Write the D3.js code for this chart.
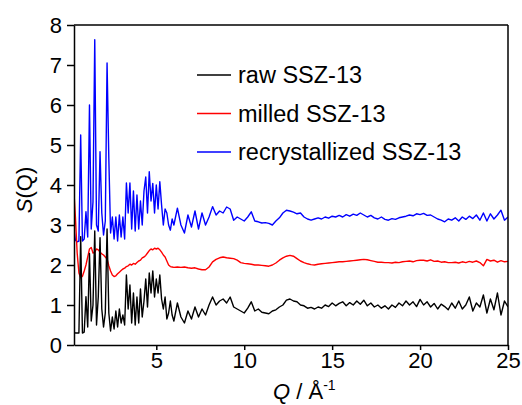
<!DOCTYPE html>
<html>
<meta charset="utf-8">
<head>
	<title>S(Q) SSZ-13</title>
	<style>
	body { margin: 0; background: #fff; }
	.axis text { font: 22px "Liberation Sans", Arial, sans-serif; fill: #000; }
	.axis path, .axis line { fill: none; stroke: #000; stroke-width: 1.5px; }
	.label { font: 22px "Liberation Sans", Arial, sans-serif; fill: #000; }
	.legend text { font: 23.5px "Liberation Sans", Arial, sans-serif; fill: #000; }
	</style>
</head>
<body>
<script src="https://cdnjs.cloudflare.com/ajax/libs/d3/7.8.5/d3.min.js"></script>
<script>

// Q grid (1/Å): fine steps where the Bragg spikes are, coarser after 6
var qLow = [0.3,0.4,0.5,0.6,0.7,0.8,0.9,1.0,1.1,1.2,1.3,1.4,1.5,1.6,1.7,1.8,1.9,2.0,2.1,2.2,
  2.3,2.4,2.5,2.6,2.7,2.8,2.9,3.0,3.1,3.2,3.3,3.4,3.5,3.6,3.7,3.8,3.9,4.0,4.1,4.2,
  4.3,4.4,4.5,4.6,4.7,4.8,4.9,5.0,5.1,5.2,5.3,5.4,5.5,5.6,5.7,5.8,5.9,6.0];
var qHigh = [6.2,6.4,6.6,6.8,7.0,7.2,7.4,7.6,7.8,8.0,8.2,8.4,8.6,8.8,9.0,9.2,9.4,9.6,9.8,10.0,
  10.2,10.4,10.6,10.8,11.0,11.2,11.4,11.6,11.8,12.0,12.2,12.4,12.6,12.8,13.0,13.2,13.4,13.6,13.8,14.0,
  14.2,14.4,14.6,14.8,15.0,15.2,15.4,15.6,15.8,16.0,16.2,16.4,16.6,16.8,17.0,17.2,17.4,17.6,17.8,18.0,
  18.2,18.4,18.6,18.8,19.0,19.2,19.4,19.6,19.8,20.0,20.2,20.4,20.6,20.8,21.0,21.2,21.4,21.6,21.8,22.0,
  22.2,22.4,22.6,22.8,23.0,23.2,23.4,23.6,23.8,24.0,24.2,24.4,24.6,24.8,25.0];

var rawLow = [0.33,0.30,0.30,0.30,2.71,0.30,0.32,1.21,0.45,2.29,0.6,1.0,2.85,0.5,1.2,2.68,0.9,0.45,0.8,2.9,
  0.8,0.35,0.7,0.4,0.85,0.45,0.9,0.55,0.75,0.5,1.75,0.9,1.5,0.55,1.3,0.5,1.2,0.55,1.4,0.7,
  1.1,1.65,0.95,1.8,1.3,1.85,1.2,1.65,1.3,1.75,1.15,0.9,1.2,0.65,0.8,1.1,0.75,0.6];
var rawHigh = [1.05,0.7,0.55,0.85,0.65,0.95,0.7,0.9,0.75,1.0,
  1.2,1.0,1.1,1.15,1.05,1.2,0.95,0.9,0.85,0.8,
  0.92,1.08,0.85,0.9,0.82,0.8,0.78,0.85,0.88,0.95,
  1.0,1.12,1.15,1.1,1.08,1.0,0.98,0.92,0.94,0.9,
  0.95,0.92,1.0,0.96,1.05,0.98,1.04,1.08,0.98,1.06,
  1.0,1.1,1.02,1.12,0.98,1.05,0.95,1.0,0.92,0.98,
  0.9,1.0,0.94,1.05,0.98,1.1,1.0,1.08,0.96,1.14,
  1.0,1.08,0.95,1.04,0.9,1.02,0.96,0.88,1.05,0.92,
  1.1,0.9,1.0,1.2,0.85,1.05,0.95,1.25,0.8,1.15,
  0.88,1.3,0.75,1.1,0.95];

var milledLow = [3.95,3.2,2.3,1.8,1.68,1.72,1.85,2.0,2.2,2.4,2.44,2.3,2.32,2.4,2.38,2.32,2.28,2.25,2.2,2.15,
  1.98,1.85,1.75,1.71,1.73,1.78,1.82,1.86,1.9,1.92,1.96,1.98,2.02,2.0,2.04,2.02,2.06,2.1,2.12,2.18,
  2.2,2.24,2.3,2.36,2.4,2.38,2.42,2.4,2.42,2.38,2.32,2.25,2.2,2.1,2.0,1.96,1.95,1.94];
var milledHigh = [1.95,1.94,1.95,1.93,1.92,1.93,1.9,1.88,1.88,1.95,
  2.08,2.14,2.18,2.2,2.18,2.17,2.16,2.12,2.06,2.04,
  2.03,2.02,2.0,2.0,1.99,1.98,1.97,2.0,2.05,2.12,
  2.18,2.22,2.24,2.22,2.16,2.1,2.06,2.03,2.01,2.0,
  2.02,2.03,2.04,2.05,2.06,2.07,2.08,2.08,2.09,2.1,
  2.11,2.12,2.13,2.14,2.13,2.11,2.09,2.07,2.07,2.06,
  2.06,2.05,2.07,2.06,2.08,2.09,2.1,2.08,2.11,2.12,
  2.12,2.1,2.13,2.09,2.1,2.07,2.08,2.06,2.06,2.07,
  2.05,2.08,2.06,2.09,2.07,2.1,2.06,1.98,2.14,2.1,
  2.12,2.07,2.11,2.08,2.09];

var recrLow = [2.95,2.62,2.58,2.6,5.25,2.6,2.65,3.33,2.7,6.0,2.9,3.58,7.63,3.0,2.85,4.83,3.3,2.75,3.1,7.05,
  4.67,2.8,3.2,2.65,3.2,2.6,3.25,2.7,3.2,2.65,4.05,3.3,4.05,2.9,3.85,2.85,3.75,2.9,3.6,3.0,
  3.85,4.2,3.3,4.33,3.6,4.04,3.3,4.0,3.4,4.08,3.5,3.0,3.4,3.3,3.0,2.87,3.15,3.0];
var recrHigh = [3.42,3.0,2.8,3.25,2.95,3.35,2.9,3.3,3.0,3.2,
  3.46,3.25,3.35,3.3,3.45,3.4,3.12,3.2,3.15,3.1,
  3.2,3.33,3.1,3.08,3.05,3.06,3.04,3.0,3.1,3.18,
  3.3,3.37,3.35,3.32,3.28,3.3,3.2,3.15,3.12,3.15,
  3.18,3.15,3.2,3.17,3.22,3.2,3.24,3.2,3.26,3.22,
  3.27,3.24,3.3,3.25,3.2,3.24,3.18,3.15,3.2,3.14,
  3.12,3.16,3.14,3.18,3.2,3.22,3.25,3.23,3.28,3.26,
  3.29,3.24,3.25,3.2,3.15,3.12,3.08,3.15,3.12,3.18,
  3.1,3.2,3.14,3.22,3.16,3.25,3.12,3.3,3.1,3.28,
  3.15,3.25,3.37,3.12,3.2];

var seriesNames = ["raw SSZ-13", "milled SSZ-13", "recrystallized SSZ-13"];
var seriesColors = ["#000000", "#ff0000", "#0000ff"];
var xTicks = [5, 10, 15, 20, 25];
var yTicks = [0, 1, 2, 3, 4, 5, 6, 7, 8];

var q = qLow.concat(qHigh);
var series = [rawLow.concat(rawHigh), milledLow.concat(milledHigh), recrLow.concat(recrHigh)];

var margin = {top: 25, right: 14, bottom: 60, left: 74},
    width = 522 - margin.left - margin.right,
    height = 405 - margin.top - margin.bottom;

var x = d3.scaleLinear().domain([0.32, 25]).range([0, width]);
var y = d3.scaleLinear().domain([0, 8]).range([height, 0]);

var svg = d3.select("body").append("svg")
    .attr("width", 522)
    .attr("height", 405)
  .append("g")
    .attr("transform", "translate(" + margin.left + "," + margin.top + ")");

svg.append("clipPath").attr("id", "clip")
  .append("rect").attr("width", width).attr("height", height);

var line = d3.line()
    .x(function(d, i) { return x(q[i]); })
    .y(function(d) { return y(d); });

// draw raw last so it sits on top like the original
[2, 1, 0].forEach(function(k) {
  svg.append("path")
    .datum(series[k])
    .attr("clip-path", "url(#clip)")
    .attr("fill", "none")
    .attr("stroke", seriesColors[k])
    .attr("stroke-width", 1.4)
    .attr("stroke-linejoin", "round")
    .attr("d", line);
});

// frame top and right
svg.append("line").attr("x1", 0).attr("x2", width).attr("y1", 0).attr("y2", 0)
  .attr("stroke", "#000").attr("stroke-width", 1.5);
svg.append("line").attr("x1", width).attr("x2", width).attr("y1", 0).attr("y2", height)
  .attr("stroke", "#000").attr("stroke-width", 1.5);

svg.append("g")
    .attr("class", "x axis")
    .attr("transform", "translate(0," + height + ")")
    .call(d3.axisBottom(x).tickValues(xTicks).tickSize(5).tickSizeOuter(0).tickPadding(2));

svg.append("g")
    .attr("class", "y axis")
    .call(d3.axisLeft(y).tickValues(yTicks).tickSize(7).tickSizeOuter(0).tickPadding(5));

svg.append("text")
    .attr("class", "label")
    .attr("transform", "translate(-42," + (height / 2 + 5) + ") rotate(-90)")
    .attr("text-anchor", "middle")
    .html("<tspan font-style='italic'>S</tspan>(Q)");

svg.append("text")
    .attr("class", "label")
    .attr("x", 199)
    .attr("y", height + 54)
    .html("<tspan font-style='italic'>Q</tspan> / Å<tspan dy='-9' font-size='14px'>-1</tspan>");

var legend = svg.append("g").attr("class", "legend");
seriesNames.forEach(function(name, i) {
  var ly = 50 + i * 38.5;
  legend.append("line")
    .attr("x1", 123).attr("x2", 157).attr("y1", ly).attr("y2", ly)
    .attr("stroke", seriesColors[i]).attr("stroke-width", 1.4);
  legend.append("text")
    .attr("x", 164).attr("y", ly + 8)
    .text(name);
});

</script>
</body>
</html>
